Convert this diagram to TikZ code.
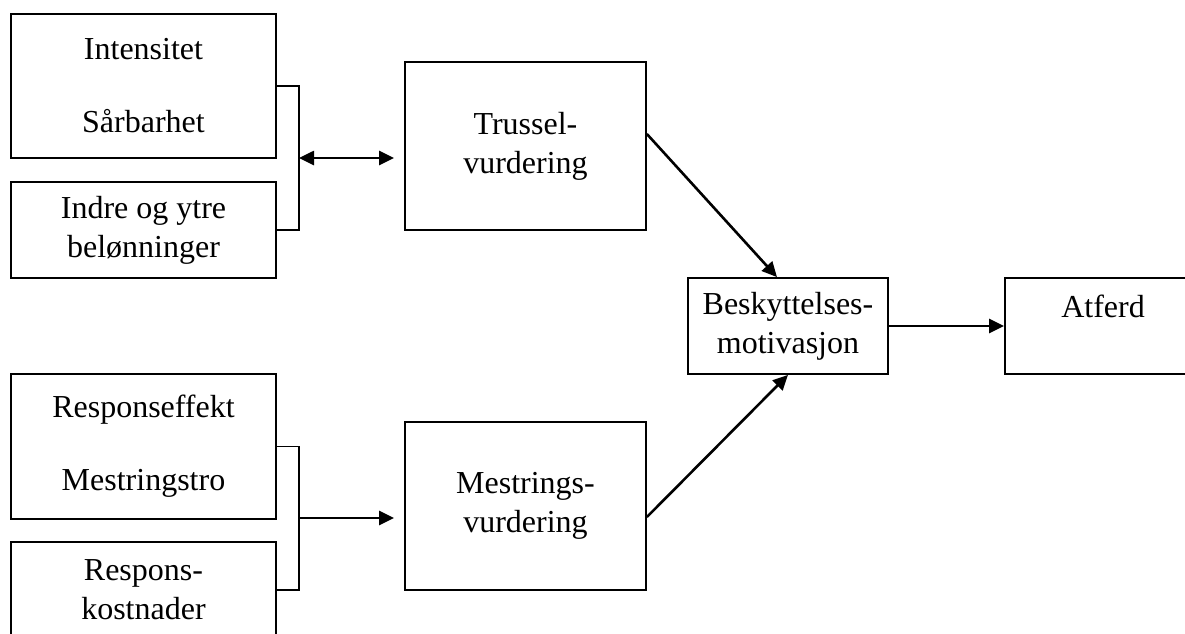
\documentclass[tikz,border=0pt]{standalone}
\usepackage{fontspec}
\setmainfont{Liberation Serif}
\usetikzlibrary{arrows.meta,calc}

\begin{document}
\begin{tikzpicture}[x=0.5pt,y=-0.5pt,line join=miter,>={Triangle[length=7.5pt,width=7pt]},
  box/.style={draw,line width=0.9pt,align=center,inner sep=0pt,font=\fontsize{16}{19.5}\selectfont},
  pil/.style={line width=1.3pt}]
\useasboundingbox (0,0) rectangle (1185,633);
% venstre bokser
\node[box,minimum width=132.5pt,minimum height=72pt] (int) at (143.5,86) {Intensitet\\[17pt]Sårbarhet};
\node[box,minimum width=132.5pt,minimum height=48pt] (bel) at (143.5,230) {Indre og ytre\\belønninger};
\node[box,minimum width=132.5pt,minimum height=72.5pt] (res) at (143.5,446.5) {Responseffekt\\[17pt]Mestringstro};
\node[box,minimum width=132.5pt,minimum height=48pt] (kost) at (143.5,590) {Respons-\\kostnader};
% vurderinger
\node[box,minimum width=120.5pt,minimum height=84pt] (tru) at (525.5,146) {Trussel-\\vurdering};
\node[box,minimum width=120.5pt,minimum height=84pt] (mes) at (525.5,506) {Mestrings-\\vurdering};
\node[box,minimum width=100pt,minimum height=48pt] (besk) at (788,326) {Beskyttelses-\\motivasjon};
\node[box,minimum width=98pt,minimum height=48pt] (atf) at (1103,326) {Atferd\\~};
% klammer
\draw[line width=0.9pt] (int.east)--(299,86)--(299,230)--(bel.east);
\draw[line width=0.9pt] (res.east)--(299,446.5)--(299,590)--(kost.east);
\coordinate (ta) at (299,158);
\coordinate (ma) at (299,518);
\draw[pil,<->,shorten >=5pt] (ta)--(ta-|tru.west);
\draw[pil,->,shorten >=5pt] (ma)--(ma-|mes.west);
\draw[pil,->] ($(tru.east)+(0,-12)$)--($(besk.north)+(-11,0)$);
\draw[pil,->] ($(mes.east)+(0,11)$)--(besk.south);
\draw[pil,->] (besk.east)--(atf.west);
\end{tikzpicture}
\end{document}
